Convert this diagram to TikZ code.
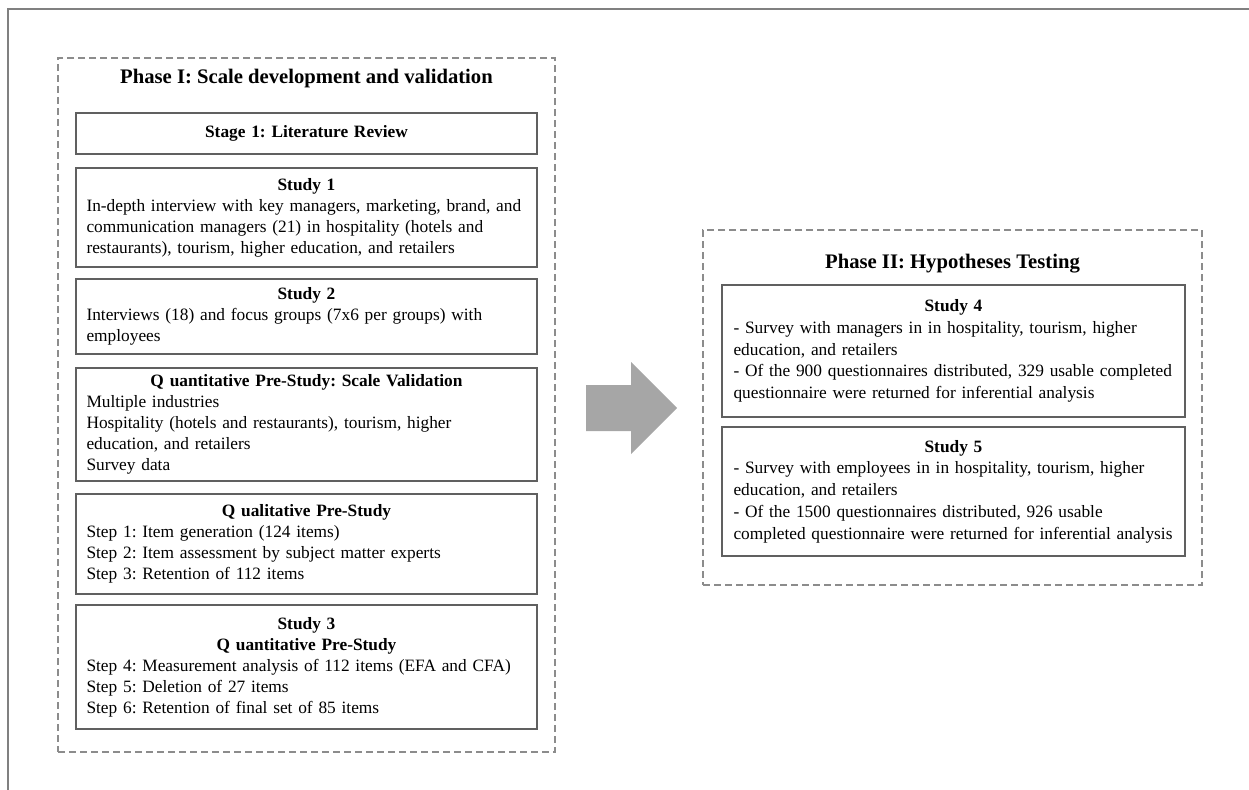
\documentclass[tikz,border=0pt]{standalone}
\usepackage{fontspec}
\setmainfont{Liberation Serif}
\usetikzlibrary{positioning}
\definecolor{FrameGray}{RGB}{128,128,128}
\definecolor{DashGray}{RGB}{140,140,140}
\definecolor{BoxGray}{RGB}{96,96,96}
\definecolor{ArrowGray}{RGB}{166,166,166}
\newcommand{\boxhead}[1]{\makebox[\linewidth][c]{\bfseries #1}}
\frenchspacing

\begin{document}
\begin{tikzpicture}[x=0.75pt,y=-0.75pt,
    studybox/.style={draw=BoxGray, line width=1.5pt, text width=330pt, inner xsep=7.9pt,
      inner ysep=0pt, align=left, minimum width=345.75pt,
      font=\fontsize{13}{15.75}\selectfont},
    phasebox/.style={draw=DashGray, line width=1.1pt, dash pattern=on 5.25pt off 3pt},
    phasetitle/.style={font=\fontsize{15.5}{18}\selectfont\bfseries}]
    \useasboundingbox (0,0) rectangle (1249,789);
    % outer frame
    \draw[FrameGray, line width=1.5pt] (8,800) -- (8,8.5) -- (1260,8.5);

    % Phase I
    \node[phasebox, minimum width=372.75pt, minimum height=520.5pt] (phaseone) at (306.5,405) {};
    \node[phasetitle] (phaseonetitle) at (306.5,79) {Phase I: Scale development and validation};
    \node[studybox, minimum height=30.75pt] (stageone) at (306.5,133.5) {\boxhead{Stage 1: Literature Review}};
    \node[studybox, minimum height=74.25pt] (studyone) at (306.5,217.5) {\boxhead{Study 1}\\
      In-depth interview with key managers, marketing, brand, and\\
      communication managers (21) in hospitality (hotels and\\
      restaurants), tourism, higher education, and retailers};
    \node[studybox, minimum height=56.25pt] (studytwo) at (306.5,316.5) {\boxhead{Study 2}\\
      Interviews (18) and focus groups (7x6 per groups) with\\
      employees};
    \node[studybox, minimum height=84.75pt] (quantpre) at (306.5,424.5) {\boxhead{Q uantitative Pre-Study: Scale Validation}\\
      Multiple industries\\
      Hospitality (hotels and restaurants), tourism, higher\\
      education, and retailers\\
      Survey data};
    \node[studybox, minimum height=75pt] (qualpre) at (306.5,544) {\boxhead{Q ualitative Pre-Study}\\
      Step 1: Item generation (124 items)\\
      Step 2: Item assessment by subject matter experts\\
      Step 3: Retention of 112 items};
    \node[studybox, minimum height=93pt] (studythree) at (306.5,667) {\boxhead{Study 3}\\
      \boxhead{Q uantitative Pre-Study}\\
      Step 4: Measurement analysis of 112 items (EFA and CFA)\\
      Step 5: Deletion of 27 items\\
      Step 6: Retention of final set of 85 items};

    % Phase II
    \node[phasebox, minimum width=374.25pt, minimum height=266.25pt] (phasetwo) at (952.5,407.5) {};
    \node[phasetitle] (phasetwotitle) at (952.5,264) {Phase II: Hypotheses Testing};
    \node[studybox, minimum width=347.25pt, inner xsep=8.6pt, minimum height=99pt,
      font=\fontsize{13}{16.3}\selectfont] (studyfour) at (953.5,351) {\boxhead{Study 4}\\
      - Survey with managers in in hospitality, tourism, higher\\
      education, and retailers\\
      - Of the 900 questionnaires distributed, 329 usable completed\\
      questionnaire were returned for inferential analysis};
    \node[studybox, minimum width=347.25pt, inner xsep=8.6pt, minimum height=96.75pt,
      font=\fontsize{13}{16.3}\selectfont] (studyfive) at (953.5,491.5) {\boxhead{Study 5}\\
      - Survey with employees in in hospitality, tourism, higher\\
      education, and retailers\\
      - Of the 1500 questionnaires distributed, 926 usable\\
      completed questionnaire were returned for inferential analysis};

    % block arrow between the phases
    \fill[ArrowGray] (586,385) -- (631,385) -- (631,362) -- (677,408)
      -- (631,454) -- (631,431) -- (586,431) -- cycle;
\end{tikzpicture}
\end{document}
